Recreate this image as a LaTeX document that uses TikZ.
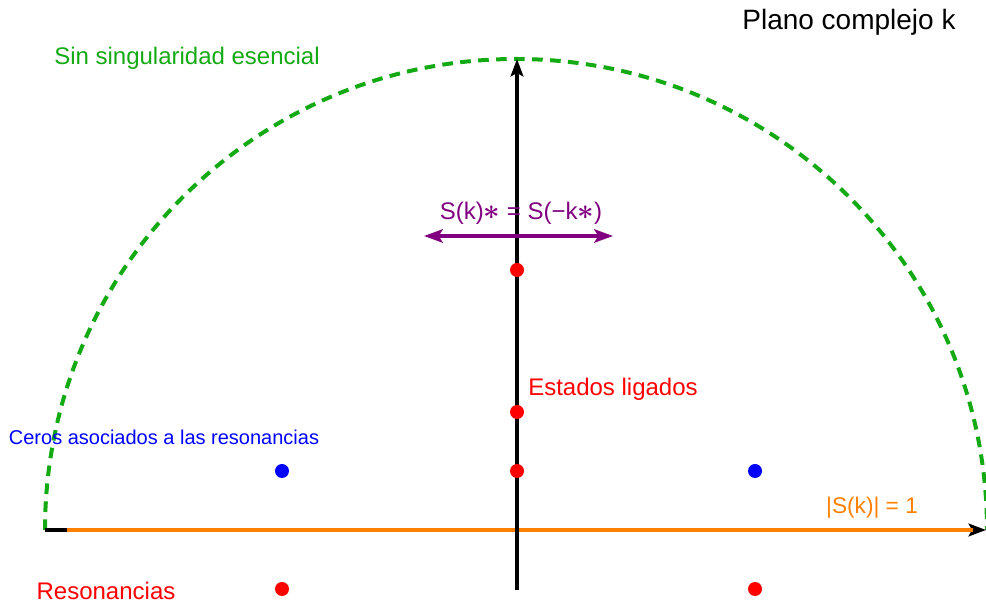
\documentclass[tikz,border=0pt]{standalone}
\usepackage{fontspec}
\setmainfont{Liberation Sans}
\usetikzlibrary{arrows.meta}
\definecolor{dgreen}{RGB}{20,170,20}
\definecolor{mpurple}{RGB}{128,0,128}
\definecolor{morange}{RGB}{255,128,0}
\definecolor{mred}{RGB}{255,0,0}
\definecolor{mblue}{RGB}{0,0,255}
\newcommand{\mystar}{\raisebox{-0.5pt}{\scalebox{1.25}{$\boldsymbol{\ast}$}}}
\usepackage{amsmath}
\begin{document}
\begin{tikzpicture}[x=0.75pt,y=0.75pt,
  dot/.style={circle,inner sep=0pt,minimum size=10.5pt},
  reddot/.style={dot,fill=mred},
  bluedot/.style={dot,fill=mblue},
  lbl/.style={inner sep=0pt,font=\fontsize{18}{20}\selectfont},
  axisline/.style={line width=2.8pt,-{Stealth[length=13pt,width=9.5pt,inset=2.5pt]}},
  ]
\useasboundingbox (0,0) rectangle (986,603);
% coordinates
\coordinate (rl) at (45,73);
\coordinate (rr) at (986,73);
\coordinate (ol) at (67,73);
\coordinate (or) at (973,73);
\coordinate (ib) at (517,13);
\coordinate (it) at (517,544);
% semicircle
\draw[dgreen,line width=3pt,dash pattern=on 8pt off 5.5pt] (rl) arc[start angle=180,end angle=0,radius=353.25pt];
% axes
\draw[axisline] (rl) -- (rr);
\draw[morange,line width=3.4pt] (ol) -- (or);
\draw[axisline] (ib) -- (it);
% purple arrow
\coordinate (pl) at (424,367);
\coordinate (pr) at (613,367);
\draw[mpurple,line width=2.8pt,{Stealth[length=14pt,width=10pt,inset=3pt]}-{Stealth[length=14pt,width=10pt,inset=3pt]}] (pl) -- (pr);
\node[lbl,text=mpurple] (sym) at (521,390) {S(k)\mystar{} = S(−k\mystar)};
% dots
\node[reddot] (b1) at (517,333) {};
\node[reddot] (b2) at (517,191) {};
\node[reddot] (b3) at (517,132) {};
\node[reddot] (r1) at (282,14) {};
\node[reddot] (r2) at (755,14) {};
\node[bluedot] (z1) at (282,132) {};
\node[bluedot] (z2) at (755,132) {};
% labels
\node[lbl,font=\fontsize{21}{23}\selectfont] (title) at (849,581) {Plano complejo k};
\node[lbl,text=dgreen] (sin) at (187,545) {Sin singularidad esencial};
\node[lbl,text=mred] (est) at (613,214) {Estados ligados};
\node[lbl,text=mblue,font=\fontsize{15}{17}\selectfont] (ceros) at (164,166) {Ceros asociados a las resonancias};
\node[lbl,text=morange,font=\fontsize{17}{19}\selectfont] (mod) at (872,95) {|S(k)| = 1};
\node[lbl,text=mred] (res) at (106,12) {Resonancias};
\end{tikzpicture}
\end{document}
